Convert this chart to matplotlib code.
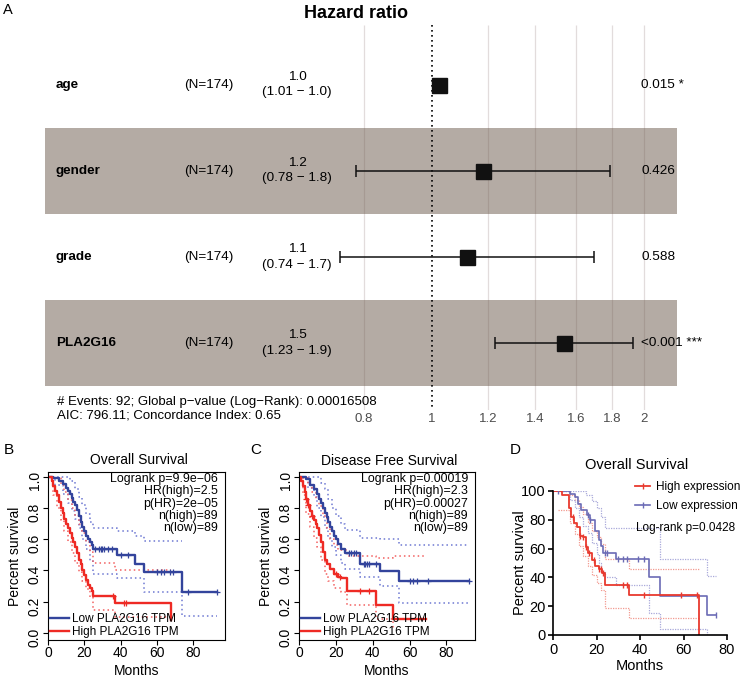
import numpy as np
import matplotlib.pyplot as plt
from matplotlib.lines import Line2D
from matplotlib.ticker import NullLocator

plt.rcParams['font.family'] = ['Liberation Sans', 'DejaVu Sans']

# ---------------- A: cox model forest plot ----------------
variables = ['age', 'gender', 'grade', 'PLA2G16']
n_lbl = ['(N=174)', '(N=174)', '(N=174)', '(N=174)']
hr = [1.024, 1.18, 1.12, 1.54]
hr_lo = [1.006, 0.78, 0.74, 1.23]
hr_hi = [1.043, 1.79, 1.70, 1.93]
hr_lbl = ['1.0', '1.2', '1.1', '1.5']
ci_lbl = ['(1.01 − 1.0)', '(0.78 − 1.8)', '(0.74 − 1.7)', '(1.23 − 1.9)']
p_lbl = ['0.015 *', '0.426', '0.588', '<0.001 ***']
hr_ticks = [0.8, 1, 1.2, 1.4, 1.6, 1.8, 2]
hr_tick_lbl = ['0.8', '1', '1.2', '1.4', '1.6', '1.8', '2']
footer = ['# Events: 92; Global p−value (Log−Rank): 0.00016508',
          'AIC: 796.11; Concordance Index: 0.65']

# ---------------- B: overall survival (GEPIA) ----------------
b_low_t = [0, 3, 6, 8, 10, 11, 12, 13, 14, 15, 16, 17, 18, 19, 20, 21, 22, 23, 24, 25, 38, 48, 53, 74, 93]
b_low_s = [1.0, 0.99, 0.975, 0.955, 0.93, 0.91, 0.89, 0.865, 0.84, 0.82, 0.79, 0.75, 0.71, 0.68, 0.65, 0.62,
           0.6, 0.58, 0.56, 0.54, 0.5, 0.44, 0.39, 0.26, 0.26]
b_high_t = [0, 2, 3, 4, 5, 6, 7, 8, 9, 10, 11, 12, 13, 14, 15, 16, 17, 18, 19, 20, 21, 22, 23, 24, 25, 37, 68]
b_high_s = [1.0, 0.97, 0.94, 0.91, 0.88, 0.84, 0.8, 0.77, 0.73, 0.7, 0.67, 0.64, 0.61, 0.58, 0.55, 0.51, 0.47,
            0.44, 0.4, 0.37, 0.34, 0.31, 0.29, 0.27, 0.235, 0.19, 0.08]
b_low_up_t = [0, 8, 12, 15, 17, 19, 21, 23, 25, 38, 48, 53, 74]
b_low_up_s = [1.0, 1.0, 0.97, 0.92, 0.87, 0.82, 0.76, 0.71, 0.67, 0.655, 0.62, 0.59, 0.59]
b_low_lo_t = [0, 4, 8, 11, 13, 15, 17, 19, 21, 23, 25, 38, 53, 74, 93]
b_low_lo_s = [1.0, 0.95, 0.89, 0.83, 0.78, 0.73, 0.67, 0.6, 0.54, 0.46, 0.38, 0.35, 0.26, 0.11, 0.11]
b_high_up_t = [0, 5, 7, 9, 11, 13, 15, 17, 19, 21, 23, 25, 37, 68]
b_high_up_s = [1.0, 0.99, 0.95, 0.9, 0.85, 0.8, 0.75, 0.7, 0.64, 0.58, 0.52, 0.45, 0.4, 0.4]
b_high_lo_t = [0, 3, 5, 7, 9, 11, 13, 15, 17, 19, 21, 23, 25, 37, 68]
b_high_lo_s = [1.0, 0.88, 0.8, 0.72, 0.65, 0.58, 0.51, 0.45, 0.39, 0.33, 0.28, 0.23, 0.15, 0.1, 0.1]
b_low_cens_t = [26, 28, 29, 30, 31, 33, 35, 40, 44, 60, 62, 64, 67, 69, 77, 93]
b_low_cens_s = [0.54, 0.54, 0.54, 0.54, 0.54, 0.54, 0.54, 0.5, 0.5, 0.39, 0.39, 0.39, 0.39, 0.39, 0.26, 0.26]
b_high_cens_t = [36, 42, 43]
b_high_cens_s = [0.235, 0.19, 0.19]
b_annot = ['Logrank p=9.9e−06', 'HR(high)=2.5', 'p(HR)=2e−05', 'n(high)=89', 'n(low)=89']

# ---------------- C: disease free survival (GEPIA) ----------------
c_low_t = [0, 4, 6, 8, 10, 11, 12, 13, 14, 15, 16, 17, 18, 19, 20, 21, 23, 25, 33, 44, 54, 92]
c_low_s = [1.0, 0.985, 0.95, 0.92, 0.89, 0.86, 0.83, 0.8, 0.77, 0.74, 0.71, 0.68, 0.65, 0.62, 0.6, 0.57,
           0.54, 0.51, 0.44, 0.395, 0.33, 0.33]
c_high_t = [0, 1, 2, 3, 4, 5, 6, 7, 8, 9, 10, 11, 12, 13, 14, 15, 17, 19, 21, 23, 26, 42, 51, 69]
c_high_s = [1.0, 0.97, 0.94, 0.9, 0.86, 0.82, 0.78, 0.75, 0.72, 0.7, 0.67, 0.63, 0.58, 0.52, 0.47, 0.44,
            0.41, 0.38, 0.36, 0.35, 0.27, 0.18, 0.09, 0.09]
c_low_up_t = [0, 10, 12, 14, 16, 18, 20, 23, 25, 33, 44, 54, 92]
c_low_up_s = [1.0, 1.0, 0.96, 0.92, 0.86, 0.8, 0.75, 0.7, 0.66, 0.61, 0.6, 0.56, 0.56]
c_low_lo_t = [0, 5, 8, 10, 12, 14, 16, 18, 20, 23, 25, 33, 44, 54, 92]
c_low_lo_s = [1.0, 0.93, 0.87, 0.8, 0.74, 0.67, 0.61, 0.55, 0.5, 0.45, 0.41, 0.36, 0.3, 0.19, 0.19]
c_high_up_t = [0, 3, 5, 7, 9, 11, 13, 15, 17, 19, 21, 26, 42, 51, 69]
c_high_up_s = [1.0, 0.99, 0.95, 0.9, 0.86, 0.81, 0.75, 0.67, 0.6, 0.56, 0.53, 0.49, 0.48, 0.49, 0.49]
c_high_lo_t = [0, 2, 4, 6, 8, 10, 12, 14, 16, 19, 23, 26, 42, 51]
c_high_lo_s = [1.0, 0.88, 0.76, 0.68, 0.61, 0.55, 0.47, 0.38, 0.33, 0.29, 0.26, 0.18, 0.09, 0.02]
c_low_cens_t = [27, 28, 30, 31, 35, 36, 37, 38, 42, 60, 62, 64, 70, 92]
c_low_cens_s = [0.51, 0.51, 0.51, 0.51, 0.44, 0.44, 0.44, 0.44, 0.44, 0.33, 0.33, 0.33, 0.33, 0.33]
c_high_cens_t = [4, 5, 7, 20, 22, 33, 38]
c_high_cens_s = [0.86, 0.82, 0.75, 0.38, 0.36, 0.27, 0.27]
c_annot = ['Logrank p=0.00019', 'HR(high)=2.3', 'p(HR)=0.00027', 'n(high)=89', 'n(low)=89']

surv_ticks = [0.0, 0.2, 0.4, 0.6, 0.8, 1.0]
month_ticks = [0, 20, 40, 60, 80]

# ---------------- D: overall survival (percent) ----------------
d_high_t = [0, 4, 7.5, 8.5, 9.5, 11, 12.5, 14, 15, 16, 18, 19.5, 21, 22.5, 24, 35, 67]
d_high_s = [100, 97, 88, 82, 78, 75, 69, 68, 61, 57, 52, 48, 46, 43, 35, 28, 0]
d_low_t = [0, 8, 10, 11.5, 13, 15.5, 17, 19.5, 21, 22, 23, 29, 44, 49, 71, 75]
d_low_s = [100, 98, 96, 91, 87, 83, 80, 72, 66, 62, 57, 53, 40, 27, 14, 14]
d_high_up_t = [0, 8, 10, 12, 14, 16, 18, 20, 22, 24, 35, 67]
d_high_up_s = [100, 97, 94, 89, 84, 78, 72, 68, 63, 53, 46, 46]
d_high_lo_t = [2.4, 8, 10, 12, 14, 16, 18, 20, 22, 24, 35, 67]
d_high_lo_s = [87, 78, 70, 62, 55, 48, 42, 36, 31, 19, 12, 12]
d_low_up_t = [3, 10, 15, 18, 20, 22, 24, 49, 71, 75]
d_low_up_s = [100, 100, 97, 93, 88, 82, 74, 53, 41, 41]
d_low_lo_t = [3, 8, 10, 12, 14, 16, 18, 20, 21, 22, 24, 29, 44, 49, 71, 75]
d_low_lo_s = [100, 94, 88, 82, 76, 71, 64, 56, 50, 44, 40, 35, 15, 4, 0, 0]
d_high_cens_t = [9, 12.5, 14, 15, 16.5, 19, 21, 22, 23, 32, 34, 42, 59, 66]
d_high_cens_s = [82, 69, 68, 61, 57, 52, 46, 46, 43, 35, 35, 28, 28, 28]
d_low_cens_t = [2.5, 16, 17, 24, 25, 30, 32, 34, 39, 42, 75]
d_low_cens_s = [100, 83, 80, 57, 57, 53, 53, 53, 53, 53, 14]
d_ticks_x = [0, 20, 40, 60, 80]
d_ticks_y = [0, 20, 40, 60, 80, 100]

W, H = 740, 679
fig = plt.figure(figsize=(W / 100, H / 100), dpi=100)


def fx(px):
    return px / W


def fy(py):
    return 1 - py / H


# ===== panel A =====
axA = fig.add_axes([0, fy(410), 1, 410 / H])
axA.set_xscale('log')
axA.set_xlim(np.exp(-432 / 306), np.exp(308 / 306))
row_px = 86
axA.set_ylim((410 - 85) / row_px, -85 / row_px)
rows = np.arange(len(variables))
line_top = (25 - 85) / row_px
line_bot = (410 - 85) / row_px

axA.vlines([t for t in hr_ticks if t != 1], line_top, line_bot, color='#e2dcdc', lw=0.9, zorder=1)
for i in rows[1::2]:
    axA.axhspan(i - 0.5, i + 0.5, xmin=fx(45), xmax=fx(677), color='#6b594b', alpha=0.5, lw=0, zorder=2)
axA.vlines(1, line_top, line_bot, color='black', lw=1.2, linestyles=(0, (1, 2)), zorder=3)
axA.errorbar(hr, rows, xerr=[np.subtract(hr, hr_lo), np.subtract(hr_hi, hr)], fmt='s',
             color='#111111', ms=10.8, capsize=4.3, elinewidth=1.1, capthick=1.1, zorder=5)

axA.set_xticks(hr_ticks)
axA.set_xticklabels(hr_tick_lbl)
axA.xaxis.set_minor_locator(NullLocator())
axA.tick_params(axis='x', length=0, pad=2, labelsize=9.5, labelcolor='#4d4d4d')
axA.set_yticks([])
for sp in axA.spines.values():
    sp.set_visible(False)

tr = axA.get_yaxis_transform()
fs = 9.7
dy = 7.5 / row_px
for i in rows:
    axA.text(fx(56), i, variables[i], transform=tr, ha='left', va='center', fontsize=fs, fontweight='bold')
    axA.text(fx(209), i, n_lbl[i], transform=tr, ha='center', va='center', fontsize=fs)
    axA.text(fx(297), i - dy, hr_lbl[i], transform=tr, ha='center', va='center', fontsize=fs)
    axA.text(fx(297), i + dy, ci_lbl[i], transform=tr, ha='center', va='center', fontsize=fs)
    axA.text(fx(641), i, p_lbl[i], transform=tr, ha='left', va='center', fontsize=fs)

fig.text(fx(356), fy(13), 'Hazard ratio', ha='center', va='center', fontsize=13, fontweight='bold')
fig.text(fx(57), fy(402), footer[0], ha='left', va='center', fontsize=9.5)
fig.text(fx(57), fy(415), footer[1], ha='left', va='center', fontsize=9.5)
fig.text(fx(3), fy(10), 'A', ha='left', va='center', fontsize=10.5)

# ===== panels B and C =====
low_col, high_col = '#33449c', '#ee2a24'
low_ci, high_ci = '#6d78d2', '#f26060'


def gepia_panel(rect, xmax, low, high, low_ci_lines, high_ci_lines, low_cens, high_cens, annot):
    ax = fig.add_axes(rect)
    for t, s in low_ci_lines:
        ax.step(t, s, where='post', color=low_ci, lw=1.1, ls=(0, (1, 2)))
    for t, s in high_ci_lines:
        ax.step(t, s, where='post', color=high_ci, lw=1.1, ls=(0, (1, 2)))
    ax.step(low[0], low[1], where='post', color=low_col, lw=1.7)
    ax.step(high[0], high[1], where='post', color=high_col, lw=1.7)
    ax.plot(low_cens[0], low_cens[1], '+', color=low_col, ms=5, mew=0.9)
    ax.plot(high_cens[0], high_cens[1], '+', color=high_col, ms=5, mew=0.9)
    ax.set_xlim(0, xmax)
    ax.set_ylim(-0.045, 1.03)
    ax.set_xticks(month_ticks)
    ax.set_yticks(surv_ticks)
    ax.set_yticklabels(['%.1f' % v for v in surv_ticks])
    ax.tick_params(direction='out', length=3.6, width=0.8, pad=1, labelsize=10)
    ax.tick_params(axis='y', labelrotation=90)
    for sp in ax.spines.values():
        sp.set_linewidth(0.8)
    ax.set_xlabel('Months', fontsize=10)
    ax.xaxis.set_label_coords(0.5, -0.14)
    ax.set_ylabel('Percent survival', fontsize=10)
    ax.yaxis.set_label_coords(-0.145, 0.5)
    handles = [Line2D([0], [0], color=low_col, lw=1.7), Line2D([0], [0], color=high_col, lw=1.7)]
    ax.legend(handles, ['Low PLA2G16 TPM', 'High PLA2G16 TPM'], loc='lower left', frameon=False,
              fontsize=8.5, handlelength=1.6, handletextpad=0.25, borderpad=0, borderaxespad=0.2,
              labelspacing=0.05)
    for k, line in enumerate(annot):
        ax.text(0.96, (640 - 479 - 12.3 * k) / 168, line, transform=ax.transAxes, ha='right', va='center',
                fontsize=8.9)
    return ax


gepia_panel([fx(48), fy(640), 177 / W, 168 / H], 97.5,
            (b_low_t, b_low_s), (b_high_t, b_high_s),
            [(b_low_up_t, b_low_up_s), (b_low_lo_t, b_low_lo_s)],
            [(b_high_up_t, b_high_up_s), (b_high_lo_t, b_high_lo_s)],
            (b_low_cens_t, b_low_cens_s), (b_high_cens_t, b_high_cens_s), b_annot)
gepia_panel([fx(299), fy(640), 176 / W, 168 / H], 95.5,
            (c_low_t, c_low_s), (c_high_t, c_high_s),
            [(c_low_up_t, c_low_up_s), (c_low_lo_t, c_low_lo_s)],
            [(c_high_up_t, c_high_up_s), (c_high_lo_t, c_high_lo_s)],
            (c_low_cens_t, c_low_cens_s), (c_high_cens_t, c_high_cens_s), c_annot)

fig.text(fx(139), fy(460), 'Overall Survival', ha='center', va='center', fontsize=10)
fig.text(fx(389), fy(461), 'Disease Free Survival', ha='center', va='center', fontsize=10)
fig.text(fx(4), fy(450), 'B', ha='left', va='center', fontsize=11)
fig.text(fx(250), fy(450), 'C', ha='left', va='center', fontsize=11)

# ===== panel D =====
d_red, d_blue = '#e8392e', '#6b6bb5'
d_red_ci, d_blue_ci = '#f29a90', '#a9a9da'
axD = fig.add_axes([fx(553), fy(635), 174 / W, 144 / H])
axD.step(d_high_up_t, d_high_up_s, where='post', color=d_red_ci, lw=0.9, ls=(0, (1, 1)))
axD.step(d_high_lo_t, d_high_lo_s, where='post', color=d_red_ci, lw=0.9, ls=(0, (1, 1)))
axD.step(d_low_up_t, d_low_up_s, where='post', color=d_blue_ci, lw=0.9, ls=(0, (1, 1)))
axD.step(d_low_lo_t, d_low_lo_s, where='post', color=d_blue_ci, lw=0.9, ls=(0, (1, 1)))
axD.step(d_low_t, d_low_s, where='post', color=d_blue, lw=1.2)
axD.step(d_high_t, d_high_s, where='post', color=d_red, lw=1.3)
axD.plot(d_low_cens_t, d_low_cens_s, '|', color=d_blue, ms=4, mew=1)
axD.plot(d_high_cens_t, d_high_cens_s, '|', color=d_red, ms=4, mew=1)
axD.set_xlim(0, 80)
axD.set_ylim(0, 100)
axD.set_xticks(d_ticks_x)
axD.set_yticks(d_ticks_y)
axD.spines['top'].set_visible(False)
axD.spines['right'].set_visible(False)
for sp in ['left', 'bottom']:
    axD.spines[sp].set_linewidth(1.2)
axD.tick_params(direction='out', length=3.6, width=1.2, pad=1.5, labelsize=10.5)
axD.tick_params(axis='x', pad=2.5)
axD.set_xlabel('Months', fontsize=10.5)
axD.xaxis.set_label_coords(0.5, -0.165)
axD.set_ylabel('Percent survival', fontsize=10.5)
axD.yaxis.set_label_coords(-0.15, 0.5)
d_handles = [Line2D([0], [0], color=d_red, lw=1.3, marker='|', ms=4),
             Line2D([0], [0], color=d_blue, lw=1.2, marker='|', ms=4)]
axD.legend(d_handles, ['High expression', 'Low expression'], loc='upper left',
           bbox_to_anchor=(fx(635), fy(481)), bbox_transform=fig.transFigure, frameon=False,
           fontsize=8.5, handlelength=1.3, handletextpad=0.5, borderpad=0, borderaxespad=0,
           labelspacing=0.6, numpoints=1)
fig.text(fx(636), fy(528), 'Log-rank p=0.0428', ha='left', va='center', fontsize=8.5)
fig.text(fx(637), fy(465), 'Overall Survival', ha='center', va='center', fontsize=10.5)
fig.text(fx(510), fy(450), 'D', ha='left', va='center', fontsize=11)

fig.savefig('out.png', dpi=100)
